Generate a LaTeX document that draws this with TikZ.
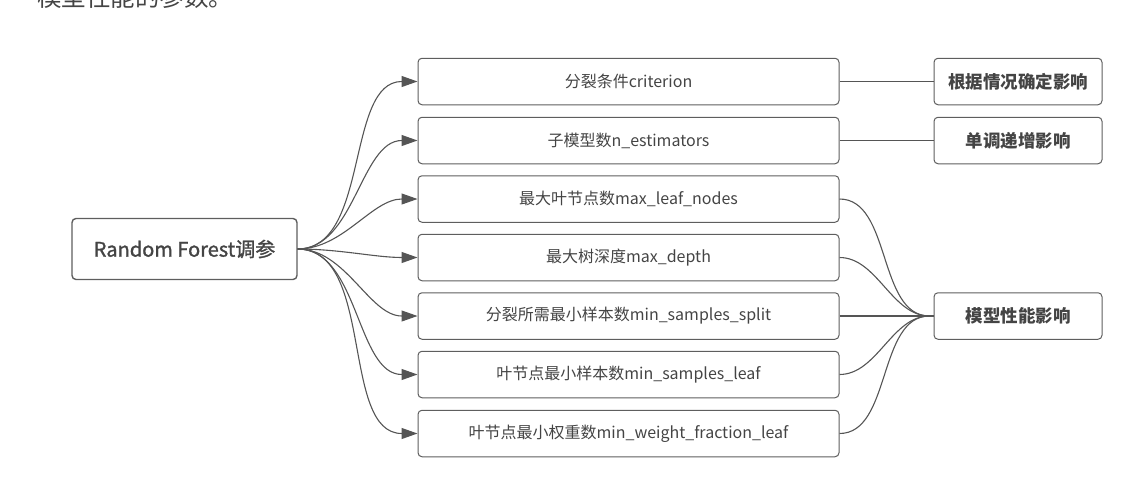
\documentclass[tikz,border=0pt]{standalone}
\usepackage{fontspec}
\setmainfont{Noto Sans CJK SC}
\newfontfamily\cjkfont{Noto Sans CJK SC}
\newfontfamily\cjkmed[FakeBold=1.3]{Noto Sans CJK SC}
\usetikzlibrary{arrows.meta}
\definecolor{boxline}{HTML}{5E5E5E}
\definecolor{txt}{HTML}{444444}
\definecolor{conn}{HTML}{555555}
\tikzset{
  every node/.style={font=\cjkfont},
  rootbox/.style={draw=boxline, line width=1.4pt, rounded corners=4pt, minimum width=225pt, minimum height=61pt, text=txt, font=\cjkmed\fontsize{20}{23}\selectfont},
  parambox/.style={draw=boxline, line width=1pt, rounded corners=4pt, minimum width=421pt, minimum height=46.5pt, text=txt, font=\cjkfont\fontsize{16}{19}\selectfont},
  effectbox/.style={draw=boxline, line width=1pt, rounded corners=4pt, minimum width=168pt, minimum height=46.5pt, text=txt, font=\cjkfont\bfseries\fontsize{17.5}{20}\selectfont},
  fanline/.style={draw=conn, line width=1.1pt, -{Triangle[length=16pt,width=11pt]}, out=0, in=180, looseness=0.9},
  joinline/.style={draw=conn, line width=1.1pt, out=0, in=180, looseness=0.9},
  straightjoin/.style={draw=conn, line width=1.1pt}
}
\begin{document}
\begin{tikzpicture}[x=1pt,y=-1pt]
\useasboundingbox (0,0) rectangle (1145,482);
\begin{scope}
\clip (0,0) rectangle (1145,482);
\node[anchor=base west, text=txt, inner sep=0pt, font=\cjkfont\fontsize{24.5}{27}\selectfont] (top) at (37,6) {模型性能的参数。};
\end{scope}

\node[rootbox] (root) at (184.5,249) {Random Forest调参};

\node[parambox] (p1) at (628.5,81.5) {分裂条件criterion};
\node[parambox] (p2) at (628.5,140.5) {子模型数n\_estimators};
\node[parambox] (p3) at (628.5,199) {最大叶节点数max\_leaf\_nodes};
\node[parambox] (p4) at (628.5,257.5) {最大树深度max\_depth};
\node[parambox] (p5) at (628.5,316) {分裂所需最小样本数min\_samples\_split};
\node[parambox] (p6) at (628.5,374.5) {叶节点最小样本数min\_samples\_leaf};
\node[parambox] (p7) at (628.5,433.5) {叶节点最小权重数min\_weight\_fraction\_leaf};

\node[effectbox] (e1) at (1018,81.5) {根据情况确定影响};
\node[effectbox] (e2) at (1018,140.5) {单调递增影响};
\node[effectbox] (e3) at (1018,316) {模型性能影响};

\foreach \p in {p1,p2,p3,p4,p5,p6,p7}
  \draw[fanline] (root.east) to (\p.west);

\draw[straightjoin] (p1.east) -- (e1.west);
\draw[straightjoin] (p2.east) -- (e2.west);
\coordinate (cj) at ([xshift=-4pt]e3.west);
\foreach \p in {p3,p4,p5,p6,p7}
  \draw[joinline] (\p.east) to (cj);
\draw[straightjoin] (cj) -- (e3.west);
\end{tikzpicture}
\end{document}
